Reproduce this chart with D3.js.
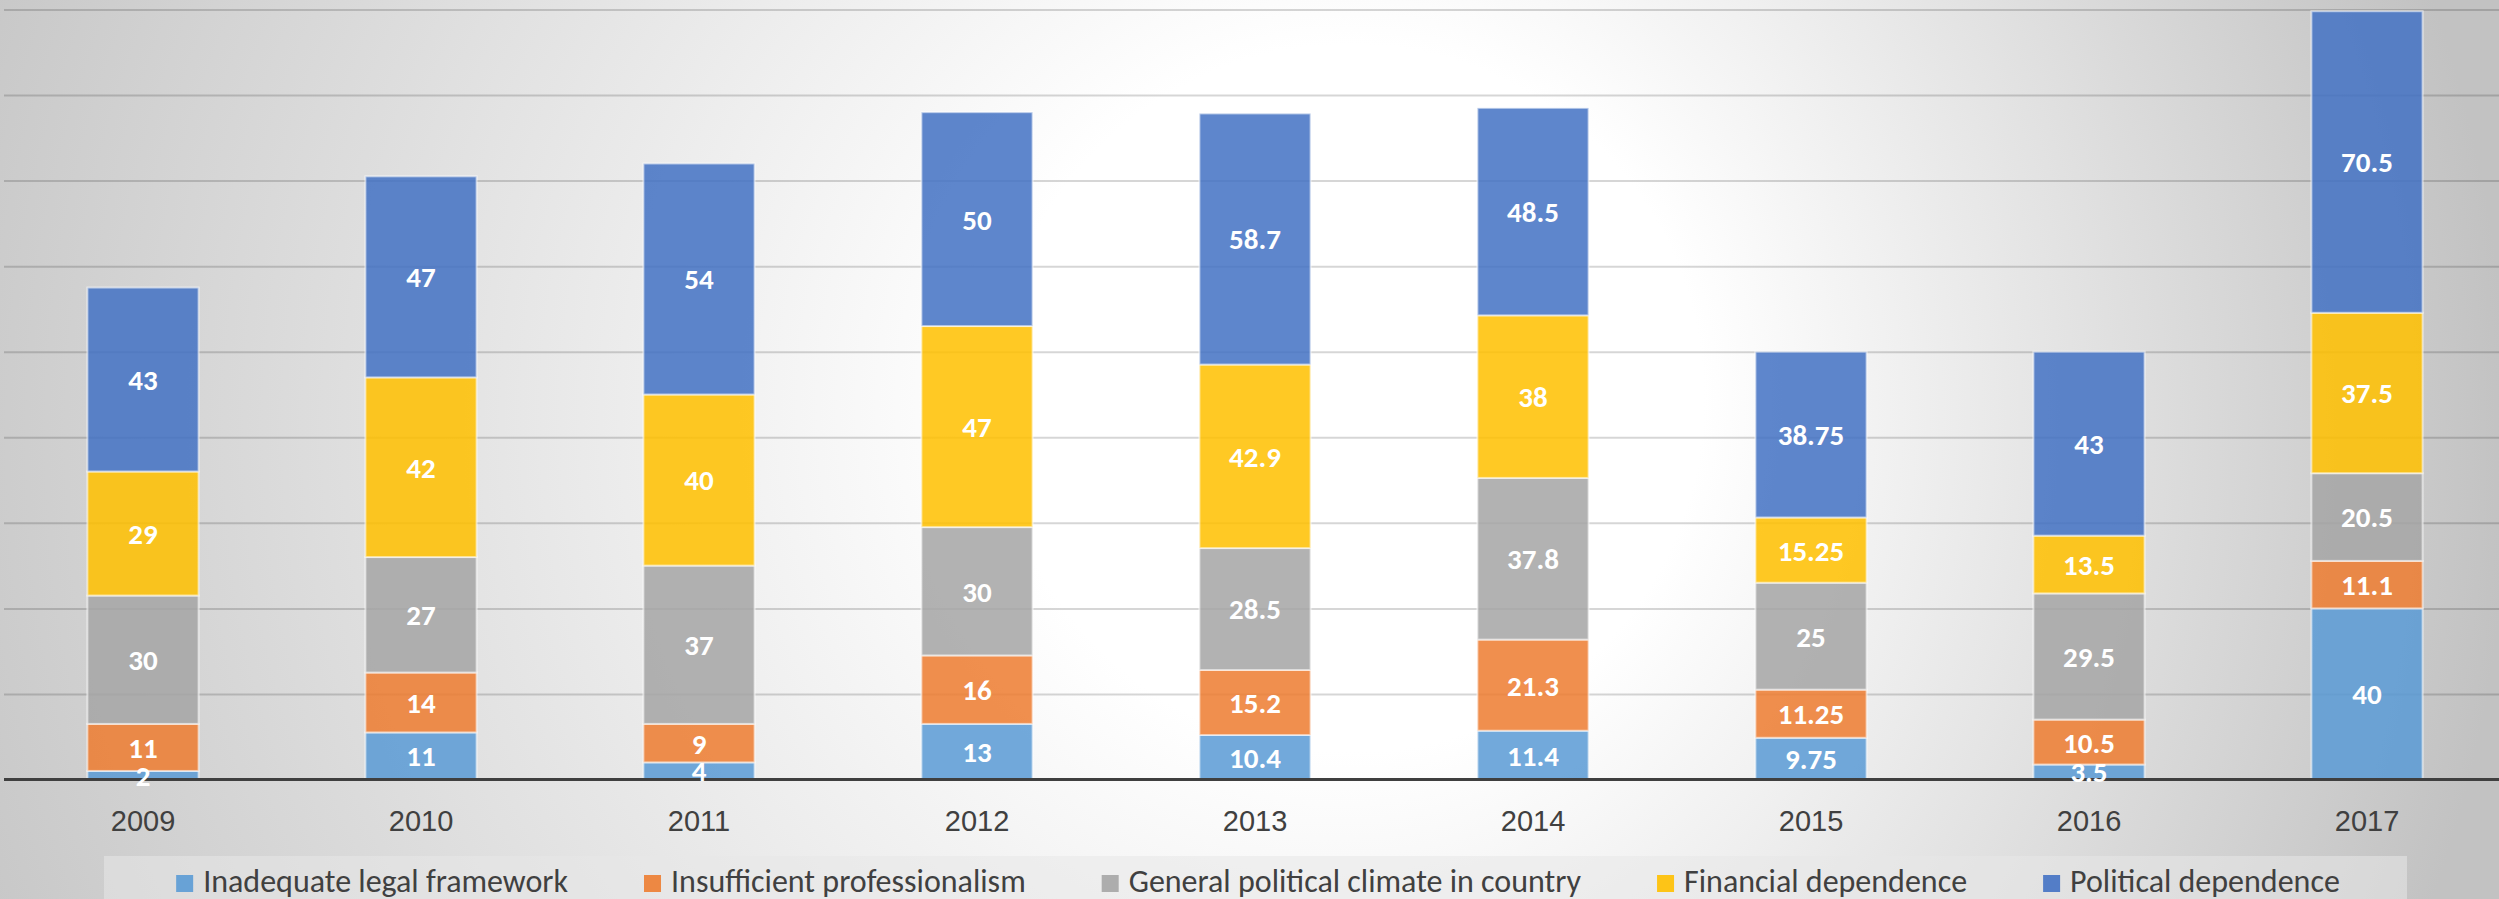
<!DOCTYPE html>
<html>
<head>
<meta charset="utf-8">
<script src="https://cdn.jsdelivr.net/npm/d3@7"></script>
<style>
  html, body { margin: 0; padding: 0; overflow: hidden; background: #fff; }
  svg { display: block; font-family: Carlito, Lato, sans-serif; }
</style>
</head>
<body>
<svg id="chart" width="2499" height="899"></svg>
<script>
// data
const years = ["2009", "2010", "2011", "2012", "2013", "2014", "2015", "2016", "2017"];
const seriesNames = [
  "Inadequate legal framework",
  "Insufficient professionalism",
  "General political climate in country",
  "Financial dependence",
  "Political dependence"
];
const seriesColors = ["#5B9BD5", "#ED7D31", "#A5A5A5", "#FFC000", "#4472C4"];

const legalFramework      = [2, 11, 4, 13, 10.4, 11.4, 9.75, 3.5, 40];
const professionalism     = [11, 14, 9, 16, 15.2, 21.3, 11.25, 10.5, 11.1];
const politicalClimate    = [30, 27, 37, 30, 28.5, 37.8, 25, 29.5, 20.5];
const financialDependence = [29, 42, 40, 47, 42.9, 38, 15.25, 13.5, 37.5];
const politicalDependence = [43, 47, 54, 50, 58.7, 48.5, 38.75, 43, 70.5];

const yTicks = [0, 20, 40, 60, 80, 100, 120, 140, 160, 180];

const W = 2499, H = 899;
const plotLeft = 4, plotRight = W;
const plotTop = 9.5, plotBottom = 779.5;

const svg = d3.select("#chart");

// background: off-centre radial glow
const defs = svg.append("defs");
const bg = defs.append("radialGradient")
  .attr("id", "bg-grad")
  .attr("gradientUnits", "userSpaceOnUse")
  .attr("cx", 1150).attr("cy", 450).attr("r", 1360)
  .attr("fx", 1420).attr("fy", 380);
bg.append("stop").attr("offset", "0%").attr("stop-color", "#ffffff");
bg.append("stop").attr("offset", "26%").attr("stop-color", "#ffffff");
bg.append("stop").attr("offset", "100%").attr("stop-color", "#c2c2c2");

svg.append("rect")
  .attr("width", W).attr("height", H)
  .attr("fill", "url(#bg-grad)");

const keys = ["legal", "prof", "climate", "financial", "political"];
const rows = years.map((year, i) => ({
  year,
  legal: legalFramework[i],
  prof: professionalism[i],
  climate: politicalClimate[i],
  financial: financialDependence[i],
  political: politicalDependence[i]
}));
const stacked = d3.stack().keys(keys)(rows);

const getX = d3.scaleBand()
  .domain(years)
  .range([plotLeft, plotLeft + 2502])
  .paddingInner(0.6)
  .paddingOuter(0.3);

const getY = d3.scaleLinear()
  .domain([0, 180])
  .range([plotBottom, plotTop]);

// gridlines
const grid = svg.append("g")
  .attr("class", "grid")
  .attr("transform", `translate(${plotLeft},0)`)
  .call(d3.axisLeft(getY).tickValues(yTicks.slice(1)).tickSize(-(plotRight - plotLeft)).tickFormat(""));
grid.select(".domain").remove();
grid.selectAll(".tick line")
  .attr("stroke", "#000")
  .attr("stroke-opacity", 0.16)
  .attr("stroke-width", 2);

// bars
const layers = svg.append("g").attr("class", "bars")
  .selectAll("g")
  .data(stacked)
  .join("g")
  .attr("fill", (d, i) => seriesColors[i]);

layers.selectAll("rect")
  .data(d => d)
  .join("rect")
  .attr("x", d => getX(d.data.year))
  .attr("width", getX.bandwidth())
  .attr("y", d => getY(d[1]))
  .attr("height", d => getY(d[0]) - getY(d[1]))
  .attr("fill-opacity", 0.86)
  .attr("stroke", "#ffffff")
  .attr("stroke-opacity", 0.55)
  .attr("stroke-width", 2);

// x axis
const xAxis = svg.append("g")
  .attr("class", "axis xAxis")
  .attr("transform", `translate(0,${plotBottom})`)
  .call(d3.axisBottom(getX).tickSize(0).tickPadding(31));
xAxis.select(".domain").remove();
xAxis.selectAll("text")
  .attr("fill", "#404040")
  .style("font-size", "29px");

svg.append("line")
  .attr("x1", plotLeft).attr("x2", plotRight)
  .attr("y1", getY(0)).attr("y2", getY(0))
  .attr("stroke", "#3f3f3f")
  .attr("stroke-width", 3);

// value labels
svg.append("g").attr("class", "labels")
  .selectAll("g")
  .data(stacked)
  .join("g")
  .selectAll("text")
  .data(d => d.map(v => ({ v, value: v.data[d.key] })))
  .join("text")
  .attr("x", d => getX(d.v.data.year) + getX.bandwidth() / 2)
  .attr("y", d => getY((d.v[0] + d.v[1]) / 2))
  .attr("dy", "0.36em")
  .attr("text-anchor", "middle")
  .attr("fill", "#ffffff")
  .style("font-size", "29px")
  .style("font-weight", "bold")
  .text(d => d.value);

// legend
svg.append("rect")
  .attr("x", 104).attr("y", 856)
  .attr("width", 2303).attr("height", 60)
  .attr("fill", "#e8e8e8")
  .attr("fill-opacity", 0.55);

const legend = svg.append("g").attr("class", "legend");
const items = legend.selectAll("g")
  .data(seriesNames)
  .join("g");

items.append("rect")
  .attr("width", 17).attr("height", 17)
  .attr("y", 875)
  .attr("fill", (d, i) => seriesColors[i])
  .attr("fill-opacity", 0.9);

items.append("text")
  .attr("x", 27)
  .attr("y", 892)
  .attr("fill", "#404040")
  .style("font-size", "32px")
  .text(d => d);

const gap = 76;
const widths = [];
items.each(function () {
  widths.push(27 + d3.select(this).select("text").node().getComputedTextLength());
});
const total = d3.sum(widths) + gap * (widths.length - 1);
let cursor = 1258 - total / 2;
items.attr("transform", (d, i) => {
  const x = cursor;
  cursor += widths[i] + gap;
  return `translate(${x},0)`;
});
</script>
</body>
</html>
